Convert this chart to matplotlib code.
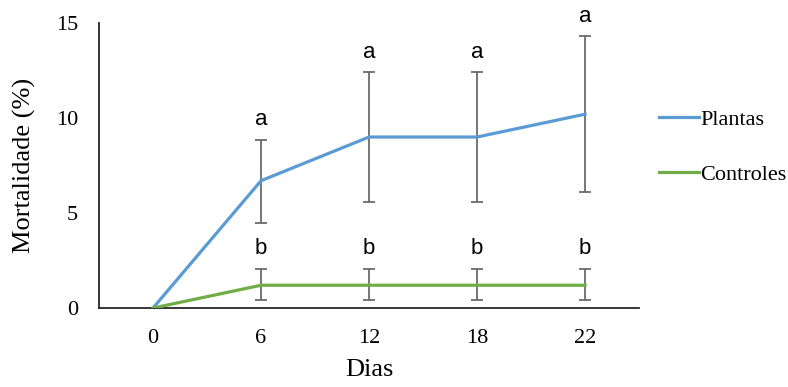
import matplotlib.pyplot as plt
import numpy as np

# Data
dias = ['0', '6', '12', '18', '22']
plantas = [0, 6.7, 9.0, 9.0, 10.2]
plantas_low = [0, 4.45, 5.6, 5.6, 6.1]
plantas_high = [0, 8.85, 12.4, 12.4, 14.3]
controles = [0, 1.2, 1.2, 1.2, 1.2]
controles_low = [0, 0.42, 0.42, 0.42, 0.42]
controles_high = [0, 2.05, 2.05, 2.05, 2.05]
letras_plantas = ['', 'a', 'a', 'a', 'a']
letras_controles = ['', 'b', 'b', 'b', 'b']

x = np.arange(len(dias))
plantas = np.array(plantas)
controles = np.array(controles)

fig = plt.figure(figsize=(7.88, 3.87), dpi=100)
ax = fig.add_axes([0.1256, 0.204, 0.6854, 0.7366])

ax.plot(x, plantas, color='#5B9BD5', lw=2.3, label='Plantas', zorder=3)
ax.plot(x, controles, color='#70AD47', lw=2.3, label='Controles', zorder=3)

err_p = [plantas - np.array(plantas_low), np.array(plantas_high) - plantas]
err_c = [controles - np.array(controles_low), np.array(controles_high) - controles]
ax.errorbar(x[1:], plantas[1:], yerr=[e[1:] for e in err_p], fmt='none',
            ecolor='#6b6b6b', elinewidth=1.3, capsize=4.5, capthick=1.3, zorder=2)
ax.errorbar(x[1:], controles[1:], yerr=[e[1:] for e in err_c], fmt='none',
            ecolor='#6b6b6b', elinewidth=1.3, capsize=4.5, capthick=1.3, zorder=2)

for i in x:
    if letras_plantas[i]:
        ax.annotate(letras_plantas[i], (x[i], plantas_high[i]), xytext=(0, 7),
                    textcoords='offset points', ha='center', va='bottom',
                    fontsize=16, family='Liberation Sans')
    if letras_controles[i]:
        ax.annotate(letras_controles[i], (x[i], controles_high[i]), xytext=(0, 7),
                    textcoords='offset points', ha='center', va='bottom',
                    fontsize=16, family='Liberation Sans')

ax.set_xlim(-0.5, 4.5)
ax.set_ylim(0, 15)
ax.set_yticks([0, 5, 10, 15])
ax.set_xticks(x)
ax.set_xticklabels(dias)
ax.tick_params(length=0, labelsize=16)
ax.tick_params(axis='x', pad=15)
ax.tick_params(axis='y', pad=15)
for lab in ax.get_xticklabels() + ax.get_yticklabels():
    lab.set_family('Liberation Serif')

for s in ['top', 'right']:
    ax.spines[s].set_visible(False)
for s in ['left', 'bottom']:
    ax.spines[s].set_color('#262626')
    ax.spines[s].set_linewidth(1.3)

ax.set_xlabel('Dias', family='Liberation Serif', fontsize=19, labelpad=8)
ax.set_ylabel('Mortalidade (%)', family='Liberation Serif', fontsize=19, labelpad=14)

leg = ax.legend(loc='center left', bbox_to_anchor=(1.037, 0.565), frameon=False,
                prop={'family': 'Liberation Serif', 'size': 16},
                borderaxespad=0, borderpad=0,
                handlelength=1.8, handletextpad=0.05, labelspacing=1.55)

fig.savefig('out.png', dpi=100)
